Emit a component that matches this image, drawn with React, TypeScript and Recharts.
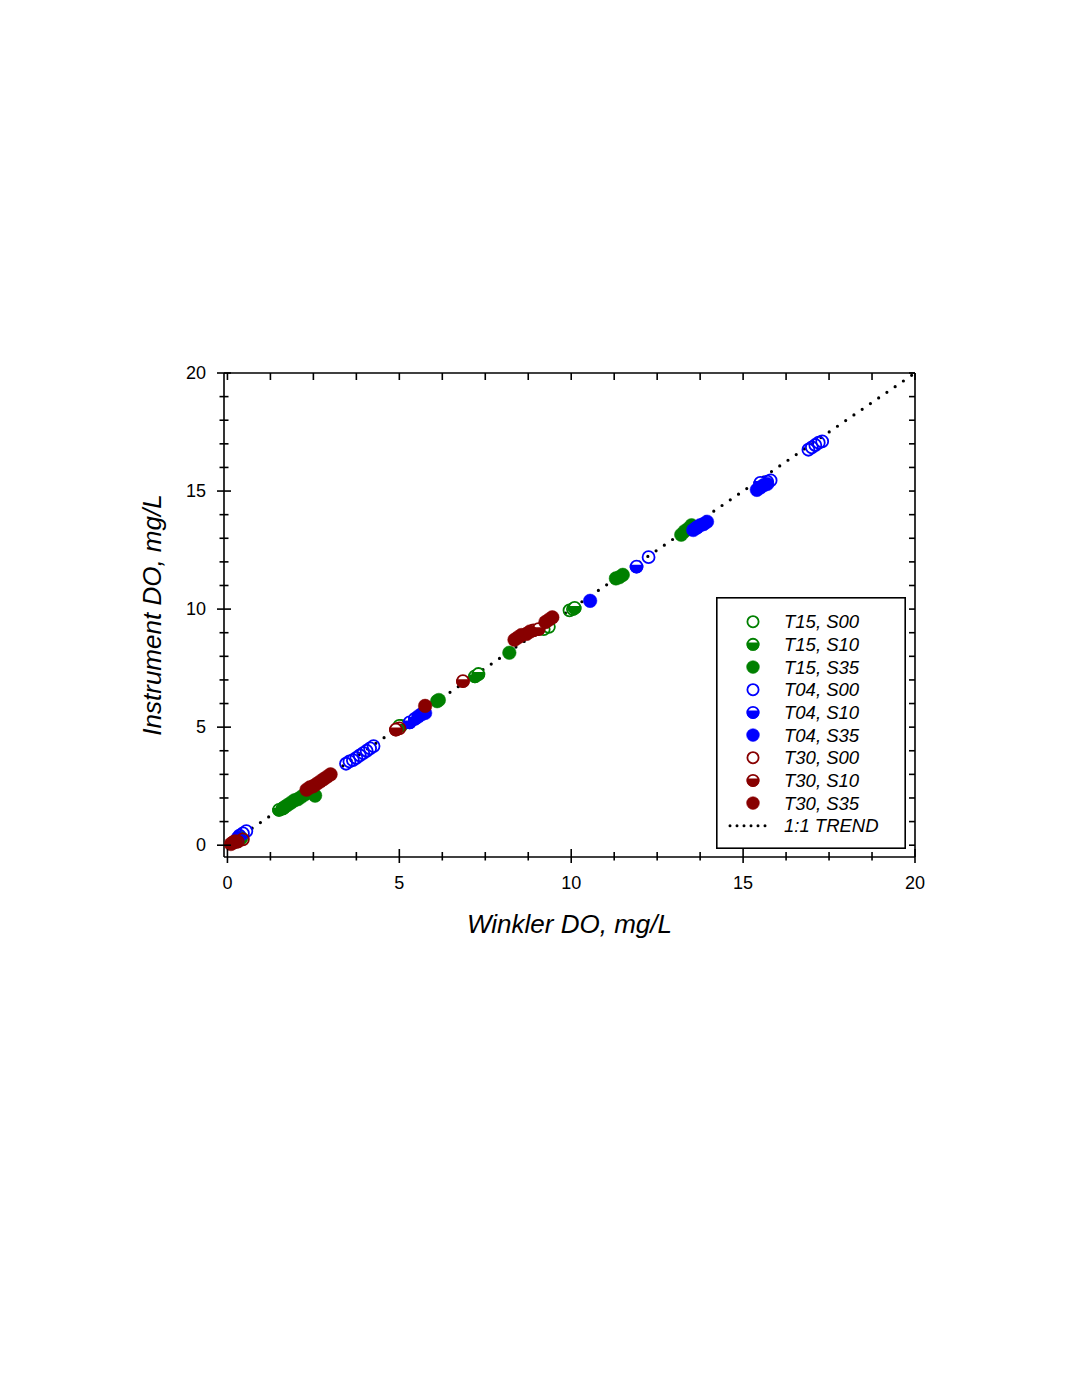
import React from 'react';
import { ScatterChart, Scatter, XAxis, YAxis, Legend } from 'recharts';

type Pt = [number, number];

const t15s00: Pt[] = [[0.35,0.3],[5.05,5.05],[9.2,9.15],[9.35,9.25],[9.95,9.95],[10.05,10.0]];
const t15s10: Pt[] = [[1.5,1.5],[1.6,1.55],[5.0,5.05],[7.2,7.15],[7.3,7.25],[10.1,10.05]];
const t15s35: Pt[] = [[0.4,0.3],[1.65,1.6],[1.75,1.7],[1.85,1.8],[1.95,1.9],[2.05,1.95],[2.15,2.05],[2.25,2.15],[2.35,2.25],[2.55,2.1],[6.1,6.1],[6.15,6.15],[8.2,8.15],[11.3,11.3],[11.4,11.35],[11.5,11.45],[13.2,13.15],[13.3,13.3],[13.4,13.4],[13.5,13.55]];
const t04s00: Pt[] = [[0.35,0.4],[0.45,0.5],[0.55,0.6],[3.45,3.45],[3.55,3.55],[3.65,3.6],[3.75,3.7],[3.85,3.8],[3.95,3.9],[4.05,4.0],[4.15,4.1],[4.25,4.2],[12.25,12.2],[15.55,15.3],[15.7,15.4],[15.8,15.45],[16.9,16.75],[17.0,16.85],[17.1,16.95],[17.2,17.05],[17.3,17.1]];
const t04s10: Pt[] = [[5.3,5.2],[5.45,5.35],[11.9,11.8],[13.65,13.45],[15.5,15.35]];
const t04s35: Pt[] = [[0.3,0.3],[5.55,5.45],[5.65,5.55],[5.75,5.6],[10.55,10.35],[13.55,13.35],[13.65,13.45],[13.75,13.55],[13.85,13.6],[13.95,13.7],[15.4,15.05],[15.5,15.15],[15.6,15.25],[15.7,15.3]];
const t30s00: Pt[] = [[0.3,0.15],[0.45,0.25],[5.0,4.95]];
const t30s10: Pt[] = [[4.9,4.9],[6.85,6.95],[8.9,9.1],[9.05,9.15]];
const t30s35: Pt[] = [[0.1,0.05],[0.15,0.1],[0.2,0.15],[0.25,0.15],[2.3,2.35],[2.4,2.45],[2.5,2.5],[2.6,2.6],[2.7,2.7],[2.8,2.8],[2.9,2.9],[3.0,3.0],[5.75,5.9],[8.35,8.7],[8.45,8.8],[8.55,8.9],[8.7,8.95],[8.8,9.05],[9.25,9.45],[9.35,9.55],[9.45,9.65]];
const trend: Pt[] = [[0,0],[20,20]];

const xTicks = [0,1.25,2.5,3.75,5,6.25,7.5,8.75,10,11.25,12.5,13.75,15,16.25,17.5,18.75,20];
const yTicks = [0,1,2,3,4,5,6,7,8,9,10,11,12,13,14,15,16,17,18,19,20];
const majorTicks = [0,5,10,15,20];

const GREEN = '#008000';
const BLUE = '#0000ff';
const RED = '#880000';
const FONT = '"Liberation Sans", Arial, sans-serif';

type Kind = 'open' | 'half' | 'full';

const seriesDefs: { name: string; data: Pt[]; color: string; kind: Kind }[] = [
  { name: 'T15, S00', data: t15s00, color: GREEN, kind: 'open' },
  { name: 'T15, S10', data: t15s10, color: GREEN, kind: 'half' },
  { name: 'T15, S35', data: t15s35, color: GREEN, kind: 'full' },
  { name: 'T04, S00', data: t04s00, color: BLUE, kind: 'open' },
  { name: 'T04, S10', data: t04s10, color: BLUE, kind: 'half' },
  { name: 'T04, S35', data: t04s35, color: BLUE, kind: 'full' },
  { name: 'T30, S00', data: t30s00, color: RED, kind: 'open' },
  { name: 'T30, S10', data: t30s10, color: RED, kind: 'half' },
  { name: 'T30, S35', data: t30s35, color: RED, kind: 'full' },
];

const toObj = (d: Pt[]) => d.map(([x, y]) => ({ x, y }));

const Marker = ({ cx, cy, color, kind, r = 6 }: { cx: number; cy: number; color: string; kind: Kind; r?: number }) => {
  if (cx == null || cy == null) return <g />;
  if (kind === 'full') {
    return <circle cx={cx} cy={cy} r={r + 0.8} fill={color} stroke={color} strokeWidth={0.5} />;
  }
  if (kind === 'open') {
    return <circle cx={cx} cy={cy} r={r} fill="none" stroke={color} strokeWidth={1.8} />;
  }
  const fy = cy - 1;
  const dx = Math.sqrt(r * r - 1);
  return (
    <g>
      <circle cx={cx} cy={cy} r={r} fill="#fff" stroke={color} strokeWidth={1.8} />
      <path d={`M ${cx - dx} ${fy} A ${r} ${r} 0 1 0 ${cx + dx} ${fy} Z`} fill={color} stroke={color} strokeWidth={1.8} />
    </g>
  );
};

const isMajor = (v: number) => majorTicks.indexOf(v) >= 0;

const BottomTick = (props: any) => {
  const { x, y, payload } = props;
  const v = payload.value;
  const m = isMajor(v);
  return (
    <g>
      <line x1={x} x2={x} y1={y - (m ? 8 : 5)} y2={y + (m ? 6 : 3.5)} stroke="#000" strokeWidth={1.6} />
      {m && (
        <text x={x} y={y + 32} textAnchor="middle" fontSize={18} fontFamily={FONT} fill="#000">{v}</text>
      )}
    </g>
  );
};

const TopTick = (props: any) => {
  const { x, y } = props;
  return <line x1={x} x2={x} y1={y} y2={y + 7} stroke="#000" strokeWidth={1.6} />;
};

const LeftTick = (props: any) => {
  const { x, y, payload } = props;
  const v = payload.value;
  const m = isMajor(v);
  return (
    <g>
      <line x1={x - (m ? 7 : 4.5)} x2={x + (m ? 7 : 4.5)} y1={y} y2={y} stroke="#000" strokeWidth={1.6} />
      {m && (
        <text x={x - 18} y={y + 6.3} textAnchor="end" fontSize={18} fontFamily={FONT} fill="#000">{v}</text>
      )}
    </g>
  );
};

const RightTick = (props: any) => {
  const { x, y } = props;
  return <line x1={x - 6} x2={x} y1={y} y2={y} stroke="#000" strokeWidth={1.6} />;
};

const LegendBox = () => {
  const rowH = 22.67;
  const y0 = 24.7;
  return (
    <svg width={190} height={252} style={{ display: 'block', overflow: 'visible' }}>
      <rect x={0.8} y={0.8} width={188.4} height={250.4} fill="#fff" stroke="#000" strokeWidth={1.6} />
      {seriesDefs.map((s, i) => (
        <g key={s.name}>
          <Marker cx={37} cy={y0 + i * rowH} color={s.color} kind={s.kind} r={5.6} />
          <text x={68} y={y0 + i * rowH + 6.5} fontSize={18.5} fontStyle="italic" fontFamily={FONT} fill="#000">{s.name}</text>
        </g>
      ))}
      <line x1={14} x2={56} y1={y0 + 9 * rowH} y2={y0 + 9 * rowH} stroke="#000" strokeWidth={3} strokeDasharray="0 7" strokeLinecap="round" />
      <text x={68} y={y0 + 9 * rowH + 6.5} fontSize={18.5} fontStyle="italic" fontFamily={FONT} fill="#000">1:1 TREND</text>
    </svg>
  );
};

export default function App() {
  return (
    <div style={{ width: 1055, height: 1000, position: 'relative', fontFamily: FONT }}>
      <ScatterChart width={1055} height={1000} margin={{ top: 355, left: 72, right: 138, bottom: 17 }}>
        <XAxis
          dataKey="x"
          type="number"
          domain={[-0.1, 20]}
          allowDataOverflow
          ticks={xTicks}
          interval={0}
          height={134}
          tickSize={0}
          tickMargin={0}
          tickLine={false}
          axisLine={{ stroke: '#000', strokeWidth: 1.6 }}
          tick={<BottomTick />}
          label={{ value: 'Winkler DO, mg/L', position: 'center', fontSize: 26, fontStyle: 'italic', fill: '#000', fontFamily: FONT }}
        />
        <XAxis
          xAxisId="top"
          orientation="top"
          dataKey="x"
          type="number"
          domain={[-0.1, 20]}
          allowDataOverflow
          ticks={xTicks}
          interval={0}
          height={10}
          tickSize={0}
          tickMargin={0}
          tickLine={false}
          axisLine={{ stroke: '#000', strokeWidth: 1.6 }}
          tick={<TopTick />}
        />
        <YAxis
          dataKey="y"
          type="number"
          domain={[-0.5, 20]}
          allowDataOverflow
          ticks={yTicks}
          interval={0}
          width={144}
          tickSize={0}
          tickMargin={0}
          tickLine={false}
          axisLine={{ stroke: '#000', strokeWidth: 1.6 }}
          tick={<LeftTick />}
          label={{ value: 'Instrument DO, mg/L', position: 'center', angle: -90, fontSize: 26, fontStyle: 'italic', fill: '#000', fontFamily: FONT }}
        />
        <YAxis
          yAxisId="right"
          orientation="right"
          dataKey="y"
          type="number"
          domain={[-0.5, 20]}
          allowDataOverflow
          ticks={yTicks}
          interval={0}
          width={10}
          tickSize={0}
          tickMargin={0}
          tickLine={false}
          axisLine={{ stroke: '#000', strokeWidth: 1.6 }}
          tick={<RightTick />}
        />
        <Scatter
          name="1:1 TREND"
          data={toObj(trend)}
          isAnimationActive={false}
          line={{ stroke: '#000', strokeWidth: 3.2, strokeDasharray: '0 10', strokeLinecap: 'round' }}
          shape={() => <g />}
        />
        {seriesDefs.map((s) => (
          <Scatter
            key={s.name}
            name={s.name}
            data={toObj(s.data)}
            isAnimationActive={false}
            shape={(p: any) => <Marker cx={p.cx} cy={p.cy} color={s.color} kind={s.kind} />}
          />
        ))}
        <Legend
          layout="vertical"
          align="center"
          verticalAlign="middle"
          wrapperStyle={{ position: 'absolute', left: 708, top: 589, width: 190, height: 252 }}
          content={() => <LegendBox />}
        />
      </ScatterChart>
    </div>
  );
}
